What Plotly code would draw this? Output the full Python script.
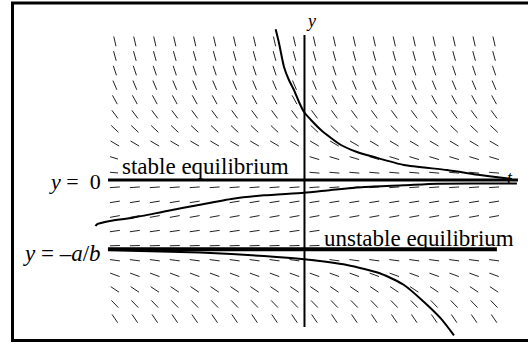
import numpy as np
import plotly.graph_objects as go

# Logistic-type equation  dy/dt = -y (a + b y)
# equilibria: y = 0 (stable) and y = -a/b (unstable)
a = 1.0
b = 1.0

# direction-field grid
t_grid = np.linspace(-2.0, 2.0, 20)
y_grid = np.linspace(-2.0, 2.0, 20)

# solution curves traced through the field
upper_t = [-0.304, -0.269, -0.216, -0.164, -0.111, -0.058, -0.005, 0.069, 0.174,
           0.385, 0.554, 0.733, 1.050, 1.503, 1.851, 2.062, 2.189]
upper_y = [2.175, 1.977, 1.631, 1.443, 1.299, 1.126, 0.981, 0.866, 0.722,
           0.505, 0.404, 0.332, 0.216, 0.144, 0.072, 0.036, 0.014]

middle_t = [-2.205, -2.189, -2.052, -1.809, -1.450, -1.102, -0.754, -0.427, -0.005,
            0.280, 0.628, 1.050, 1.398, 1.851, 2.241]
middle_y = [-0.664, -0.639, -0.592, -0.544, -0.447, -0.356, -0.270, -0.221, -0.183,
            -0.144, -0.101, -0.076, -0.053, -0.050, -0.050]

lower_t = [-2.073, -1.735, -1.102, -0.427, -0.005, 0.448, 0.807, 1.050, 1.261,
           1.440, 1.577]
lower_y = [-1.010, -1.025, -1.046, -1.097, -1.144, -1.227, -1.352, -1.515, -1.760,
           -2.001, -2.241]

# extents of the drawn reference lines
stable_line_t = [-2.073, 2.252]
unstable_line_t = [-2.073, 2.030]
y_axis_extent = [-2.121, 2.092]

W, H = 528, 344
x_range = [-3.212, 2.358]
y_range = [-(H - 180) / 69.3, 180 / 69.3]

px_per_t = W / (x_range[1] - x_range[0])
px_per_y = H / (y_range[1] - y_range[0])

SERIF = "Liberation Serif, Times New Roman, serif"


def slope(y):
    return -y * (a + b * y)


# short line segments of constant on-screen length
half_len = 5.0
seg_x, seg_y = [], []
for yv in y_grid:
    s = slope(yv)
    dxp, dyp = 1.0, s * px_per_y / px_per_t
    n = np.hypot(dxp, dyp)
    dxp, dyp = dxp / n * half_len, dyp / n * half_len
    dt, dy = dxp / px_per_t, dyp / px_per_y
    for tv in t_grid:
        seg_x += [tv - dt, tv + dt, None]
        seg_y += [yv - dy, yv + dy, None]

fig = go.Figure()

fig.add_trace(go.Scatter(x=seg_x, y=seg_y, mode="lines",
                         line=dict(color="#222222", width=1), hoverinfo="skip"))

# vertical y axis
fig.add_trace(go.Scatter(x=[0, 0], y=y_axis_extent, mode="lines",
                         line=dict(color="black", width=2), hoverinfo="skip"))

# equilibrium lines
fig.add_trace(go.Scatter(x=stable_line_t, y=[0, 0], mode="lines",
                         line=dict(color="black", width=3), hoverinfo="skip"))
fig.add_trace(go.Scatter(x=unstable_line_t, y=[-a / b, -a / b], mode="lines",
                         line=dict(color="black", width=4), hoverinfo="skip"))

# solution curves
for tt, yy in [(upper_t, upper_y), (middle_t, middle_y), (lower_t, lower_y)]:
    fig.add_trace(go.Scatter(x=tt, y=yy, mode="lines",
                             line=dict(color="black", width=2, shape="spline",
                                       smoothing=0.6),
                             hoverinfo="skip"))


def px_t(px):
    return x_range[0] + px / px_per_t


def px_y(py):
    return y_range[1] - py / px_per_y


annotations = [
    dict(x=px_t(103), y=px_y(181), text="<i>y</i> = \u00a00", xanchor="right",
         yanchor="middle", font=dict(family=SERIF, size=22, color="black")),
    dict(x=px_t(103), y=px_y(253), text="<i>y</i> = \u2013<i>a</i>/<i>b</i>",
         xanchor="right", yanchor="middle",
         font=dict(family=SERIF, size=23, color="black")),
    dict(x=px_t(120), y=px_y(166), text="stable equilibrium", xanchor="left",
         yanchor="middle", font=dict(family=SERIF, size=23, color="black")),
    dict(x=px_t(322), y=px_y(238), text="unstable equilibrium", xanchor="left",
         yanchor="middle", font=dict(family=SERIF, size=23, color="black")),
    dict(x=px_t(311), y=px_y(21), text="<i>y</i>", xanchor="center", yanchor="middle",
         font=dict(family=SERIF, size=18, color="black")),
    dict(x=px_t(510), y=px_y(178), text="<i>t</i>", xanchor="center", yanchor="middle",
         font=dict(family=SERIF, size=18, color="black")),
]
for ann in annotations:
    ann.update(xref="x", yref="y", showarrow=False)

# white panels behind the two equilibrium captions
masks = [
    dict(x0=px_t(118), x1=px_t(300), y0=px_y(177), y1=px_y(154)),
    dict(x0=px_t(321), x1=px_t(524), y0=px_y(247), y1=px_y(227)),
]
shapes = [dict(type="rect", xref="x", yref="y", line=dict(width=0),
               fillcolor="white", layer="above", **m) for m in masks]
shapes.append(dict(type="rect", xref="paper", yref="paper",
                   x0=12.5 / W, x1=1.02, y0=1 - 340.5 / H, y1=1 - 3 / H,
                   line=dict(color="black", width=3), fillcolor="rgba(0,0,0,0)",
                   layer="above"))

fig.update_layout(
    width=W, height=H, autosize=False,
    margin=dict(l=0, r=0, t=0, b=0, pad=0),
    paper_bgcolor="white", plot_bgcolor="white",
    showlegend=False,
    xaxis=dict(range=x_range, visible=False, fixedrange=True),
    yaxis=dict(range=y_range, visible=False, fixedrange=True),
    annotations=annotations,
    shapes=shapes,
)

fig.write_html("out.html", config={"displayModeBar": False})
